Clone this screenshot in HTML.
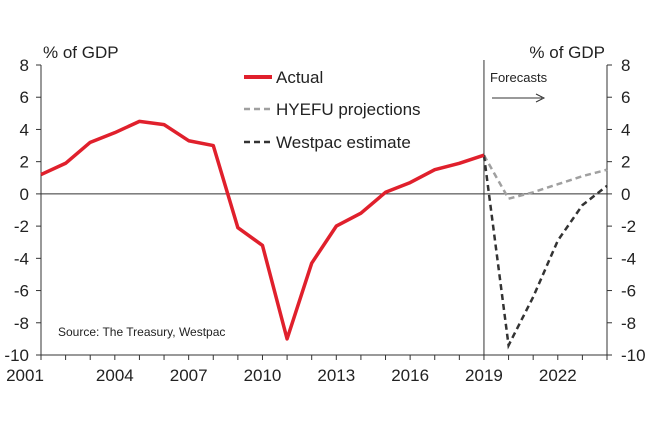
<!DOCTYPE html>
<html><head><meta charset="utf-8"><style>
body{margin:0;background:#fff;}
svg text{font-family:"Liberation Sans",Arial,sans-serif;fill:#222;}
</style></head><body>
<svg id="chart" width="662" height="417" viewBox="0 0 662 417">
<g id="axes"></g><g id="series"></g>
<text x="43" y="58" font-size="17">% of GDP</text>
<text x="605" y="58" font-size="17" text-anchor="end">% of GDP</text>
<g>
<line x1="244" y1="77" x2="272" y2="77" stroke="#e0202c" stroke-width="4"/>
<text x="276" y="83" font-size="17">Actual</text>
<line x1="244" y1="109" x2="272" y2="109" stroke="#a0a0a0" stroke-width="2.5" stroke-dasharray="6,4"/>
<text x="276" y="115" font-size="17">HYEFU projections</text>
<line x1="244" y1="142" x2="272" y2="142" stroke="#333" stroke-width="2.5" stroke-dasharray="6,4"/>
<text x="276" y="148" font-size="17">Westpac estimate</text>
</g>
<text x="490" y="82" font-size="13">Forecasts</text>
<g><line x1="492" y1="98" x2="542" y2="98" stroke="#333" stroke-width="1"/><path d="M536,94 L544,98 L536,102" fill="none" stroke="#333" stroke-width="1"/></g>
<text x="58" y="336" font-size="12">Source: The Treasury, Westpac</text>
</svg>
<script>
const yTicks=[8,6,4,2,0,-2,-4,-6,-8,-10];
const xTickLabels=[2001,2004,2007,2010,2013,2016,2019,2022];
const actualYears=[2001,2002,2003,2004,2005,2006,2007,2008,2009,2010,2011,2012,2013,2014,2015,2016,2017,2018,2019];
const actualValues=[1.2,1.9,3.2,3.8,4.5,4.3,3.3,3.0,-2.1,-3.2,-9.0,-4.3,-2.0,-1.2,0.1,0.7,1.5,1.9,2.4];
const fcYears=[2019,2020,2021,2022,2023,2024];
const hyefuValues=[2.4,-0.3,0.1,0.6,1.1,1.5];
const westpacValues=[2.4,-9.4,-6.4,-2.9,-0.7,0.5];
const NS="http://www.w3.org/2000/svg";
const X0=41,X1=607,Y0=65,Y1=355;
const xs=y=>X0+(y-2001)/(2024-2001)*(X1-X0);
const ys=v=>Y0+(8-v)/18*(Y1-Y0);
function mk(t,a,p){const e=document.createElementNS(NS,t);for(const k in a)e.setAttribute(k,a[k]);p.appendChild(e);return e;}
const ax=document.getElementById('axes'),se=document.getElementById('series');
let e=mk('line',{x1:X0,y1:Y0,x2:X0,y2:Y1,stroke:'#333','stroke-width':1},ax);


e=mk('line',{x1:X1,y1:Y0,x2:X1,y2:Y1,stroke:'#333','stroke-width':1},ax);


e=mk('line',{x1:X0,y1:Y1,x2:X1,y2:Y1,stroke:'#333','stroke-width':1},ax);


e=mk('line',{x1:X0,y1:ys(0),x2:X1,y2:ys(0),stroke:'#333','stroke-width':1},ax);


e=mk('line',{x1:xs(2019),y1:Y0-5,x2:xs(2019),y2:Y1,stroke:'#333','stroke-width':1},ax);


yTicks.forEach(v=>{
 mk('line',{x1:X0-5,y1:ys(v),x2:X0,y2:ys(v),stroke:'#333'},ax);
 mk('line',{x1:X1,y1:ys(v),x2:X1+5,y2:ys(v),stroke:'#333'},ax);
 let t=mk('text',{x:X0-12,y:ys(v)+6,'font-size':17,'text-anchor':'end'},ax);t.textContent=v;
 
 
 t=mk('text',{x:X1+14,y:ys(v)+6,'font-size':17,'text-anchor':'start'},ax);t.textContent=v;
 
 
});
for(let y=2001;y<=2024;y++)mk('line',{x1:xs(y),y1:Y1,x2:xs(y),y2:Y1+5,stroke:'#333'},ax);
xTickLabels.forEach(y=>{const t=mk('text',{x:y===2001?25:xs(y),y:Y1+26,'font-size':17,'text-anchor':'middle'},ax);t.textContent=y;
 
 });
function pts(xa,va){return xa.map((x,i)=>xs(x)+','+ys(va[i])).join(' ');}
e=mk('polyline',{points:pts(fcYears,hyefuValues),fill:'none',stroke:'#a0a0a0','stroke-width':2.5,'stroke-dasharray':'6,4'},se);


e=mk('polyline',{points:pts(fcYears,westpacValues),fill:'none',stroke:'#333','stroke-width':2.5,'stroke-dasharray':'6,4'},se);


e=mk('polyline',{points:pts(actualYears,actualValues),fill:'none',stroke:'#e0202c','stroke-width':3.5,'stroke-linejoin':'round'},se);


</script>
</body></html>
